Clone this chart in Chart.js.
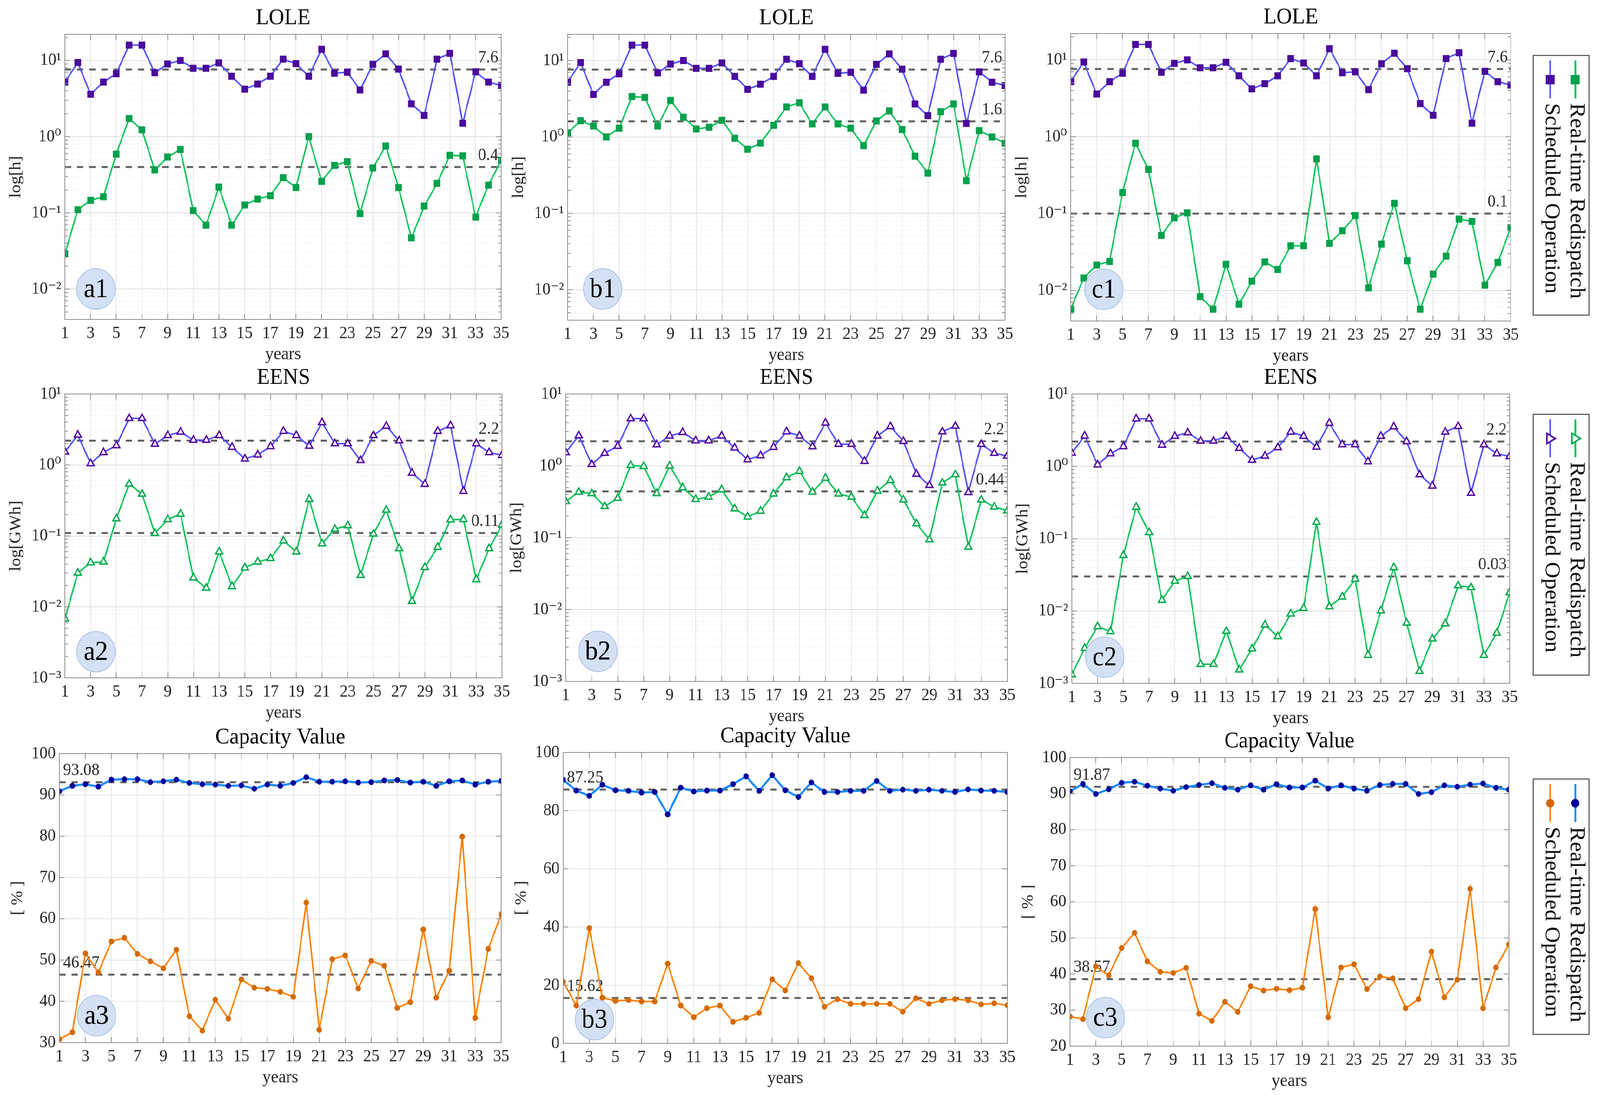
<!DOCTYPE html>
<html>
<head>
<meta charset="utf-8">
<script src="https://cdn.jsdelivr.net/npm/chart.js@4.4.0/dist/chart.umd.min.js"></script>
<style>
  html, body { margin: 0; padding: 0; background: #fff; overflow: hidden; }
  #stage { position: absolute; left: 0; top: 0; width: 4338px; height: 2817px; transform-origin: 0 0; background: #fff; }
  canvas { position: absolute; }
</style>
</head>
<body>
<div id="stage">
<canvas id="a1"></canvas><canvas id="b1"></canvas><canvas id="c1"></canvas>
<canvas id="a2"></canvas><canvas id="b2"></canvas><canvas id="c2"></canvas>
<canvas id="a3"></canvas><canvas id="b3"></canvas><canvas id="c3"></canvas>
</div>
<script>
// --- data ---
const years = [1,2,3,4,5,6,7,8,9,10,11,12,13,14,15,16,17,18,19,20,21,22,23,24,25,26,27,28,29,30,31,32,33,34,35];
const yearTicks = [1,3,5,7,9,11,13,15,17,19,21,23,25,27,29,31,33,35];

const loleScheduled = [5.2,9.4,3.6,5.2,6.7,15.9,15.9,6.9,9.0,10.0,7.9,7.9,9.3,6.2,4.2,4.9,6.2,10.4,9.1,6.2,14.0,6.8,7.0,4.1,8.9,12.2,7.7,2.7,1.9,10.4,12.4,1.5,7.1,5.2,4.7];
const loleRealtimeA = [0.029,0.11,0.146,0.163,0.59,1.73,1.23,0.366,0.54,0.68,0.107,0.069,0.218,0.069,0.127,0.152,0.168,0.29,0.215,1.0,0.259,0.42,0.47,0.098,0.389,0.755,0.215,0.047,0.123,0.244,0.57,0.56,0.088,0.231,0.49];
const loleRealtimeB = [1.13,1.63,1.39,1.0,1.30,3.38,3.29,1.39,3.0,1.81,1.27,1.34,1.65,0.96,0.69,0.83,1.42,2.47,2.80,1.48,2.47,1.48,1.30,0.77,1.62,2.19,1.25,0.56,0.336,2.14,2.70,0.268,1.21,1.0,0.83];
const loleRealtimeC = [0.0057,0.0145,0.0214,0.0238,0.188,0.823,0.376,0.052,0.088,0.102,0.0083,0.0057,0.0219,0.0066,0.0132,0.0235,0.0187,0.0381,0.0381,0.514,0.0409,0.0598,0.094,0.0108,0.040,0.136,0.0243,0.0057,0.0163,0.0279,0.0847,0.079,0.0117,0.0231,0.0655];

const eensScheduled = [1.53,2.64,1.05,1.50,1.88,4.54,4.54,1.97,2.61,2.92,2.24,2.24,2.61,1.78,1.22,1.39,1.82,2.99,2.61,1.85,3.96,2.0,2.0,1.16,2.61,3.53,2.20,0.77,0.536,2.99,3.58,0.427,2.0,1.50,1.37];
const eensRealtimeA = [0.0068,0.0301,0.042,0.043,0.175,0.541,0.390,0.109,0.171,0.204,0.0257,0.0184,0.0597,0.0194,0.0356,0.043,0.0482,0.0853,0.0597,0.330,0.0778,0.125,0.140,0.0279,0.107,0.232,0.0664,0.0120,0.0361,0.0695,0.169,0.171,0.0243,0.0664,0.143];
const eensRealtimeB = [0.320,0.432,0.413,0.273,0.355,1.02,0.985,0.413,1.0,0.498,0.342,0.369,0.465,0.253,0.195,0.235,0.407,0.687,0.841,0.432,0.677,0.407,0.369,0.204,0.448,0.628,0.337,0.157,0.094,0.582,0.757,0.0741,0.337,0.269,0.237];
const eensRealtimeC = [0.00132,0.00306,0.0061,0.0052,0.0589,0.273,0.122,0.0141,0.026,0.0301,0.00184,0.00184,0.00527,0.00154,0.00301,0.00644,0.00444,0.00915,0.0109,0.169,0.0115,0.0157,0.0276,0.00245,0.0101,0.040,0.00684,0.00147,0.00412,0.00669,0.0224,0.0212,0.00245,0.00497,0.0180];

const capRealtimeA = [90.9,92.2,92.6,92.0,93.7,93.8,93.8,93.1,93.3,93.7,92.9,92.6,92.5,92.2,92.3,91.5,92.5,92.2,92.9,94.3,93.2,93.2,93.3,93.0,93.1,93.5,93.6,93.0,93.2,92.2,93.3,93.5,92.5,93.2,93.4];
const capScheduledA = [30.8,32.5,51.6,47.0,54.5,55.4,51.5,49.7,48.0,52.5,36.4,32.9,40.4,35.8,45.3,43.3,43.0,42.3,41.1,63.9,33.1,50.2,51.1,43.1,49.8,48.6,38.4,39.8,57.4,40.9,47.4,79.9,36.0,52.7,61.1];
const capRealtimeB = [90.6,86.9,85.1,88.9,87.0,86.8,86.2,86.4,78.7,87.9,86.6,86.9,86.9,89.1,91.8,86.8,92.2,87.0,84.7,89.7,86.4,86.4,86.8,86.8,90.2,86.8,87.2,86.8,87.2,86.8,86.4,87.3,86.9,86.8,86.4];
const capScheduledB = [21.2,13.0,39.6,15.7,14.6,14.9,14.4,14.4,27.4,13.0,9.0,12.1,13.0,7.4,8.8,10.5,22.0,18.2,27.6,22.4,12.6,15.2,13.6,13.6,13.6,13.6,10.9,15.5,13.6,14.8,15.2,14.8,13.4,13.8,13.1];
const capRealtimeC = [90.6,92.7,89.9,91.2,93.0,93.3,92.2,91.4,90.8,91.8,92.4,92.9,91.6,91.1,92.3,91.1,92.6,91.7,91.7,93.6,91.4,92.3,91.4,90.8,92.4,92.7,92.7,89.9,90.4,92.3,91.9,92.5,92.8,91.6,91.1];
const capScheduledC = [28.2,27.5,42.1,39.6,47.2,51.4,43.5,40.6,40.3,41.7,29.0,27.0,32.3,29.5,36.6,35.4,35.9,35.5,36.2,58.0,28.0,41.8,42.7,35.8,39.3,38.8,30.5,33.0,46.2,33.5,38.4,63.6,30.5,41.8,48.2];

// averages shown as dashed lines (columns a, b, c)
const loleMeanScheduled = 7.6;
const loleMeanRealtime = [0.4, 1.6, 0.1];
const eensMeanScheduled = 2.2;
const eensMeanRealtime = [0.11, 0.44, 0.03];
const capMeanRealtime = [93.08, 87.25, 91.87];
const capMeanScheduled = [46.47, 15.62, 38.57];

const capTicksA = [30,40,50,60,70,80,90,100];
const capTicksB = [0,20,40,60,80,100];
const capTicksC = [20,30,40,50,60,70,80,90,100];

const legendLabels = ['Real-time Redispatch', 'Scheduled Operation'];

// --- stretch the 4338x2817 layout over the css viewport we actually get ---
const PAGE_W = 4338, PAGE_H = 2817;
const sx = (window.innerWidth || PAGE_W) / PAGE_W;
const sy = (window.innerHeight || PAGE_H) / PAGE_H;
document.getElementById('stage').style.transform = 'scale(' + sx + ',' + sy + ')';
document.body.style.width = (PAGE_W * sx) + 'px';
document.body.style.height = (PAGE_H * sy) + 'px';
const DPR = Math.max(1, Math.max(sx, sy) * (window.devicePixelRatio || 1));

// --- styling helpers ---
const FONT = "'Liberation Serif', 'DejaVu Serif', serif";
const TXT = '#262626';
const TITLE_H = 76, X_H = 122;

function sup(n) {
  const m = {'-':'\u207B','0':'\u2070','1':'\u00B9','2':'\u00B2','3':'\u00B3','4':'\u2074','5':'\u2075','6':'\u2076','7':'\u2077','8':'\u2078','9':'\u2079'};
  return String(n).split('').map(c => m[c]).join('');
}
function isPow10(v) { const l = Math.log10(v); return Math.abs(l - Math.round(l)) < 1e-6; }
function logTickValues(min, max) {
  const out = [];
  for (let e = Math.floor(Math.log10(min)); e <= Math.ceil(Math.log10(max)); e++) {
    for (let k = 1; k <= 9; k++) {
      const v = parseFloat((k * Math.pow(10, e)).toPrecision(6));
      if (v >= min - 1e-12 && v <= max + 1e-12) out.push(v);
    }
  }
  return out;
}

function lineDs(label, values, line, fill, stroke, style, radius, lw, pbw) {
  return {
    label, data: values.map((v, i) => ({ x: years[i], y: v })),
    borderColor: line, backgroundColor: fill, borderWidth: lw, tension: 0,
    pointStyle: style, pointRadius: radius, pointHoverRadius: radius,
    pointBackgroundColor: fill, pointBorderColor: stroke, pointBorderWidth: pbw
  };
}

function xAxis() {
  return {
    type: 'linear', min: 1, max: 35, bounds: 'data',
    afterBuildTicks: s => { s.ticks = yearTicks.map(v => ({ value: v })); },
    afterFit: s => { s.height = X_H; },
    ticks: { autoSkip: false, maxRotation: 0, padding: 10, color: TXT, font: { family: FONT, size: 44 }, callback: v => String(v) },
    grid: { drawTicks: false, lineWidth: 2, color: '#e4e4e4' },
    border: { display: true, color: '#8c8c8c', width: 2 },
    title: { display: true, text: 'years', color: TXT, font: { family: FONT, size: 46 }, padding: { top: 0, bottom: 4 } }
  };
}
function logY(min, max, title, yW) {
  return {
    type: 'logarithmic', min, max, bounds: 'data',
    afterBuildTicks: s => { s.ticks = logTickValues(min, max).map(v => ({ value: v, major: isPow10(v) })); },
    afterFit: s => { s.width = yW; },
    ticks: { autoSkip: false, padding: 10, color: TXT, font: { family: FONT, size: 44 },
             callback: v => isPow10(v) ? '10' + sup(Math.round(Math.log10(v))) : '' },
    grid: { drawTicks: false, lineWidth: 2, color: c => (c.tick && c.tick.major) ? '#dddddd' : '#ececec' },
    border: { display: true, color: '#8c8c8c', width: 2, dash: c => (c.tick && c.tick.major === false) ? [3, 6] : [] },
    title: { display: true, text: title, color: TXT, font: { family: FONT, size: 44 }, padding: { top: 11, bottom: 0 } }
  };
}
function linY(min, max, tickVals, yW) {
  return {
    type: 'linear', min, max, bounds: 'data',
    afterBuildTicks: s => { s.ticks = tickVals.map(v => ({ value: v })); },
    afterFit: s => { s.width = yW; },
    ticks: { autoSkip: false, padding: 10, color: TXT, font: { family: FONT, size: 44 } },
    grid: { drawTicks: false, lineWidth: 2, color: '#e4e4e4' },
    border: { display: true, color: '#8c8c8c', width: 2 },
    title: { display: true, text: '[ % ]', color: TXT, font: { family: FONT, size: 44 }, padding: { top: 11, bottom: 0 } }
  };
}

function drawMarker(ctx, kind, x, y, fill, stroke) {
  ctx.save();
  if (kind === 'rect') {
    ctx.fillStyle = fill; ctx.fillRect(x - 12, y - 12, 24, 24);
  } else if (kind === 'triangle') {
    ctx.beginPath(); ctx.moveTo(x + 14, y); ctx.lineTo(x - 9, y - 13); ctx.lineTo(x - 9, y + 13); ctx.closePath();
    ctx.fillStyle = '#fff'; ctx.fill(); ctx.strokeStyle = stroke; ctx.lineWidth = 4; ctx.stroke();
  } else {
    ctx.beginPath(); ctx.arc(x, y, 11, 0, Math.PI * 2); ctx.fillStyle = fill; ctx.fill();
  }
  ctx.restore();
}

// dashed averages, frame ticks, panel tag and the side legend
const panelDecor = {
  id: 'panelDecor',
  beforeDatasetsDraw(chart, args, opts) {
    const { ctx, chartArea: a } = chart;
    const y = chart.scales.y;
    (opts.means || []).forEach(m => {
      const py = y.getPixelForValue(m.value);
      ctx.save();
      ctx.strokeStyle = '#606060'; ctx.lineWidth = 5; ctx.setLineDash([17, 16]);
      ctx.beginPath(); ctx.moveTo(a.left, py); ctx.lineTo(a.right, py); ctx.stroke();
      ctx.setLineDash([]);
      ctx.fillStyle = '#2a2a2a'; ctx.font = '44px ' + FONT; ctx.textBaseline = 'alphabetic';
      if (m.side === 'right') { ctx.textAlign = 'right'; ctx.fillText(String(m.value), a.right - 8, py - 18); }
      else { ctx.textAlign = 'left'; ctx.fillText(String(m.value), a.left + 10, py - 18); }
      ctx.restore();
    });
  },
  afterDraw(chart, args, opts) {
    const { ctx, chartArea: a } = chart;
    const xs = chart.scales.x, ys = chart.scales.y;
    ctx.save();
    ctx.strokeStyle = '#8c8c8c'; ctx.lineWidth = 2;
    ctx.strokeRect(a.left, a.top, a.width, a.height);
    ctx.beginPath();
    xs.ticks.forEach(t => {
      const px = xs.getPixelForValue(t.value);
      ctx.moveTo(px, a.bottom); ctx.lineTo(px, a.bottom - 14);
      ctx.moveTo(px, a.top); ctx.lineTo(px, a.top + 14);
    });
    ys.ticks.forEach(t => {
      const py = ys.getPixelForValue(t.value);
      const len = t.major === false ? 8 : 14;
      ctx.moveTo(a.left, py); ctx.lineTo(a.left + len, py);
      ctx.moveTo(a.right, py); ctx.lineTo(a.right - len, py);
    });
    ctx.stroke();
    ctx.restore();

    if (opts.tag) {
      const cx = a.left + opts.tag.dx, cy = a.bottom - opts.tag.dy;
      ctx.save();
      ctx.beginPath(); ctx.arc(cx, cy, 52, 0, Math.PI * 2);
      ctx.fillStyle = '#d4e0f3'; ctx.fill();
      ctx.strokeStyle = '#a8c0e6'; ctx.lineWidth = 2; ctx.stroke();
      ctx.fillStyle = '#000'; ctx.font = '70px ' + FONT; ctx.textAlign = 'center'; ctx.textBaseline = 'middle';
      ctx.fillText(opts.tag.text, cx, cy + 3);
      ctx.restore();
    }

    if (opts.legend) {
      const L = opts.legend;
      ctx.save();
      ctx.translate(-L.origin[0], -L.origin[1]);
      const [x0, y0, x1, y1] = L.box;
      ctx.fillStyle = '#fff'; ctx.fillRect(x0, y0, x1 - x0, y1 - y0);
      ctx.strokeStyle = '#444'; ctx.lineWidth = 2.5; ctx.strokeRect(x0, y0, x1 - x0, y1 - y0);
      L.entries.forEach(e => {
        ctx.strokeStyle = e.line; ctx.lineWidth = 5;
        ctx.beginPath(); ctx.moveTo(e.x, y0 + 13); ctx.lineTo(e.x, y0 + 110); ctx.stroke();
        drawMarker(ctx, L.marker, e.x, y0 + 62, e.fill, e.stroke);
        ctx.save();
        ctx.translate(e.x + 3, y0 + 122);
        ctx.rotate(Math.PI / 2);
        ctx.fillStyle = '#111'; ctx.font = '58px ' + FONT; ctx.textAlign = 'left'; ctx.textBaseline = 'middle';
        ctx.fillText(e.text, 0, 0);
        ctx.restore();
      });
      ctx.restore();
    }
  }
};
Chart.register(panelDecor);

function makePanel(id, geom, yW, title, yScale, datasets, decor, padR) {
  const [L, T, R, B] = geom;
  const left = L - yW, top = T - TITLE_H;
  const w = yW + (R - L) + padR, h = TITLE_H + (B - T) + X_H;
  const canvas = document.getElementById(id);
  canvas.style.left = left + 'px'; canvas.style.top = top + 'px';
  canvas.style.width = w + 'px'; canvas.style.height = h + 'px';
  canvas.width = w; canvas.height = h;
  if (decor.legend) decor.legend.origin = [left, top];
  return new Chart(canvas, {
    type: 'line',
    data: { datasets },
    options: {
      responsive: false, animation: false, devicePixelRatio: DPR,
      layout: { padding: { left: 0, top: 0, bottom: 0, right: padR } },
      plugins: {
        legend: { display: false }, tooltip: { enabled: false },
        title: { display: true, text: title, fullSize: false, color: '#000', font: { family: FONT, size: 58, weight: 'normal' }, padding: { top: 0, bottom: 6.4 } },
        panelDecor: decor
      },
      scales: { x: xAxis(), y: yScale }
    }
  });
}

// colours
const schedBlue = '#5353ff', schedMark = '#4a0a9c';
const realGreen = '#14c45c', realMark = '#00a04c';
const capBlue = '#1a8cff', capNavy = '#00009a';
const capOrange = '#ff8000', capOrangeMark = '#d46a00';

function loleSets(real) {
  return [
    lineDs(legendLabels[1], loleScheduled, schedBlue, schedMark, schedMark, 'rect', 12, 4, 1),
    lineDs(legendLabels[0], real, realGreen, realMark, realMark, 'rect', 12, 4, 1)
  ];
}
function eensSets(real) {
  return [
    lineDs(legendLabels[1], eensScheduled, schedBlue, '#ffffff', '#52069e', 'triangle', 11, 4, 3.5),
    lineDs(legendLabels[0], real, realGreen, '#ffffff', '#00a84c', 'triangle', 11, 4, 3.5)
  ];
}
function capSets(real, sched) {
  return [
    lineDs(legendLabels[1], sched, capOrange, capOrangeMark, capOrangeMark, 'circle', 7, 4, 1),
    lineDs(legendLabels[0], real, capBlue, capNavy, capNavy, 'circle', 7, 5.5, 1)
  ];
}
function legendFor(box, marker, realLine, realFill, realStroke, schedLine, schedFill, schedStroke) {
  return {
    box, marker,
    entries: [
      { text: legendLabels[0], x: 4271, line: realLine, fill: realFill, stroke: realStroke },
      { text: legendLabels[1], x: 4203, line: schedLine, fill: schedFill, stroke: schedStroke }
    ]
  };
}

const LOLE_MIN = 0.004, LOLE_MAX = 22;
const EENS_MIN = 0.001, EENS_MAX = 10;

// row 1: LOLE
makePanel('a1', [176, 88, 1359, 818], 170, 'LOLE', logY(LOLE_MIN, LOLE_MAX, 'log[h]', 170), loleSets(loleRealtimeA),
  { means: [{ value: loleMeanScheduled, side: 'right' }, { value: loleMeanRealtime[0], side: 'right' }], tag: { text: 'a1', dx: 84, dy: 78 } }, 40);
makePanel('b1', [1539, 88, 2725, 820], 170, 'LOLE', logY(LOLE_MIN, LOLE_MAX, 'log[h]', 170), loleSets(loleRealtimeB),
  { means: [{ value: loleMeanScheduled, side: 'right' }, { value: loleMeanRealtime[1], side: 'right' }], tag: { text: 'b1', dx: 95, dy: 80 } }, 40);
makePanel('c1', [2903, 86, 4096, 822], 170, 'LOLE', logY(LOLE_MIN, LOLE_MAX, 'log[h]', 170), loleSets(loleRealtimeC),
  { means: [{ value: loleMeanScheduled, side: 'right' }, { value: loleMeanRealtime[2], side: 'right' }], tag: { text: 'c1', dx: 90, dy: 81 },
    legend: legendFor([4157, 142, 4308, 807], 'rect', realGreen, realMark, realMark, schedBlue, schedMark, schedMark) }, 4338 - 4096);

// row 2: EENS
makePanel('a2', [176, 1009, 1361, 1736], 170, 'EENS', logY(EENS_MIN, EENS_MAX, 'log[GWh]', 170), eensSets(eensRealtimeA),
  { means: [{ value: eensMeanScheduled, side: 'right' }, { value: eensMeanRealtime[0], side: 'right' }], tag: { text: 'a2', dx: 84, dy: 67 } }, 40);
makePanel('b2', [1534, 1009, 2731, 1745], 170, 'EENS', logY(EENS_MIN, EENS_MAX, 'log[GWh]', 170), eensSets(eensRealtimeB),
  { means: [{ value: eensMeanScheduled, side: 'right' }, { value: eensMeanRealtime[1], side: 'right' }], tag: { text: 'b2', dx: 87, dy: 77 } }, 40);
makePanel('c2', [2906, 1009, 4093, 1750], 170, 'EENS', logY(EENS_MIN, EENS_MAX, 'log[GWh]', 170), eensSets(eensRealtimeC),
  { means: [{ value: eensMeanScheduled, side: 'right' }, { value: eensMeanRealtime[2], side: 'right' }], tag: { text: 'c2', dx: 89, dy: 67 },
    legend: legendFor([4157, 1061, 4308, 1729], 'triangle', realGreen, '#fff', '#00a84c', schedBlue, '#fff', '#52069e') }, 4338 - 4093);

// row 3: Capacity Value
makePanel('a3', [161, 1930, 1359, 2670], 150, 'Capacity Value', linY(30, 100, capTicksA, 150), capSets(capRealtimeA, capScheduledA),
  { means: [{ value: capMeanRealtime[0], side: 'left' }, { value: capMeanScheduled[0], side: 'left' }], tag: { text: 'a3', dx: 101, dy: 69 } }, 40);
makePanel('b3', [1527, 1927, 2731, 2672], 150, 'Capacity Value', linY(0, 100, capTicksB, 150), capSets(capRealtimeB, capScheduledB),
  { means: [{ value: capMeanRealtime[1], side: 'left' }, { value: capMeanScheduled[1], side: 'left' }], tag: { text: 'b3', dx: 85, dy: 61 } }, 40);
makePanel('c3', [2901, 1940, 4091, 2679], 150, 'Capacity Value', linY(20, 100, capTicksC, 150), capSets(capRealtimeC, capScheduledC),
  { means: [{ value: capMeanRealtime[2], side: 'left' }, { value: capMeanScheduled[2], side: 'left' }], tag: { text: 'c3', dx: 96, dy: 73 },
    legend: legendFor([4157, 1995, 4308, 2649], 'circle', capBlue, capNavy, capNavy, capOrange, capOrangeMark, capOrangeMark) }, 4338 - 4091);
</script>
</body>
</html>
